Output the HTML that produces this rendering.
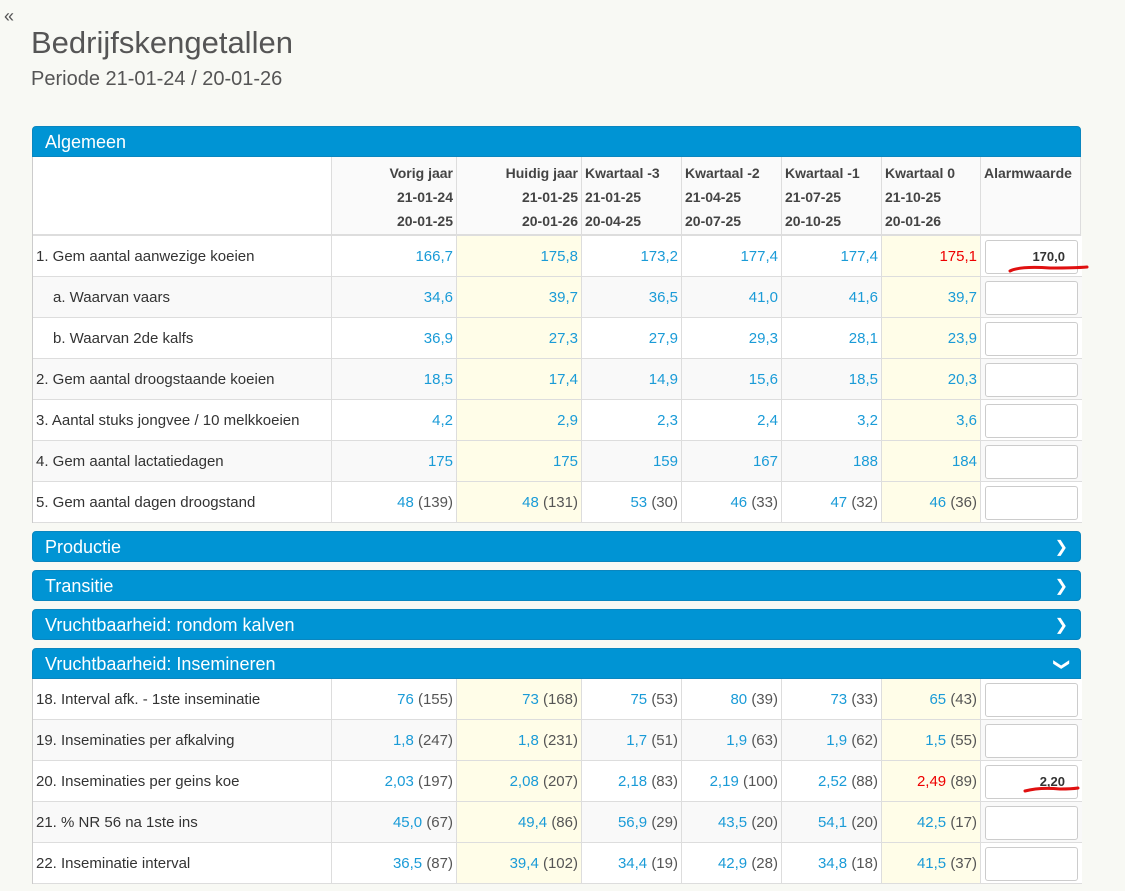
<!DOCTYPE html>
<html><head><meta charset="utf-8">
<style>
*{box-sizing:border-box;margin:0;padding:0}
body{width:1125px;height:891px;background:#f8f9f4;font-family:"Liberation Sans",sans-serif;position:relative;overflow:hidden;color:#333}
.abs{position:absolute}
.bar{position:absolute;left:32px;width:1049px;height:31px;background:#0094d4;border-radius:4px 4px 0 0;color:#fff;font-size:18px;line-height:31px;padding-left:12px;border:1px solid #0a86bf}
.bar.closed{border-radius:4px}
.chev{position:absolute;right:12px;top:0;font-size:16px}
.panel{position:absolute;left:32px;width:1049px;background:#fff;border:1px solid #ccc;border-top:none}
.cell{position:absolute;font-size:15px;height:41px;line-height:41px;border-right:1px solid #ddd;border-bottom:1px solid #ddd;padding:0 3px;white-space:nowrap}
.v{color:#1a9bd7}.r{color:#e00}.p{color:#555}
.hd{font-weight:bold;font-size:14px;line-height:24px;color:#444;padding-top:4px}
.inp{position:absolute;left:4px;top:4px;width:93px;height:34px;border:1px solid #ccc;border-radius:3px;background:#fff;text-align:right;padding-right:12px;font-size:13px;font-weight:bold;line-height:32px;color:#333}
</style></head><body>
<div class="abs" style="left:4px;top:6px;font-size:18px;color:#555">«</div>
<div class="abs" style="left:31px;top:25px;font-size:31px;color:#555">Bedrijfskengetallen</div>
<div class="abs" style="left:31px;top:68px;font-size:20px;color:#555">Periode 21-01-24 / 20-01-26</div>

<div class="bar" style="top:126px">Algemeen</div>
<div class="panel" id="p1" style="top:157px;height:366px"></div>
<div class="bar closed" style="top:531px">Productie<span class="chev">&#x276F;</span></div>
<div class="bar closed" style="top:570px">Transitie<span class="chev">&#x276F;</span></div>
<div class="bar closed" style="top:609px">Vruchtbaarheid: rondom kalven<span class="chev">&#x276F;</span></div>
<div class="bar" style="top:648px">Vruchtbaarheid: Insemineren<span class="chev" style="transform:rotate(90deg)">&#x276F;</span></div>
<div class="panel" id="p2" style="top:679px;height:205px"></div>

<svg class="abs" style="left:0;top:0" width="1125" height="891">
<path d="M1010 271 Q1020 266 1050 268 Q1075 268 1087 267" stroke="#e01010" stroke-width="3" fill="none" stroke-linecap="round"/>
<path d="M1025 791 Q1040 787 1060 789 Q1072 789 1078 788" stroke="#e01010" stroke-width="3" fill="none" stroke-linecap="round"/>
</svg>
<script>
const colX=[0,299,424,549,649,749,849,948,1048];
const yelCols=[2,6];
const heads=[["Vorig jaar","21-01-24","20-01-25"],["Huidig jaar","21-01-25","20-01-26"],["Kwartaal -3","21-01-25","20-04-25"],["Kwartaal -2","21-04-25","20-07-25"],["Kwartaal -1","21-07-25","20-10-25"],["Kwartaal 0","21-10-25","20-01-26"],["Alarmwaarde","",""]];
const labels1=["1. Gem aantal aanwezige koeien","a. Waarvan vaars","b. Waarvan 2de kalfs","2. Gem aantal droogstaande koeien","3. Aantal stuks jongvee / 10 melkkoeien","4. Gem aantal lactatiedagen","5. Gem aantal dagen droogstand"];
const values1=[["166,7","175,8","173,2","177,4","177,4","175,1"],["34,6","39,7","36,5","41,0","41,6","39,7"],["36,9","27,3","27,9","29,3","28,1","23,9"],["18,5","17,4","14,9","15,6","18,5","20,3"],["4,2","2,9","2,3","2,4","3,2","3,6"],["175","175","159","167","188","184"],["48","48","53","46","47","46"]];
const counts1=[null,null,null,null,null,null,["139","131","30","33","32","36"]];
const alarm1=["170,0","","","","","",""];
const red1=[[0,5]];
const labels2=["18. Interval afk. - 1ste inseminatie","19. Inseminaties per afkalving","20. Inseminaties per geins koe","21. % NR 56 na 1ste ins","22. Inseminatie interval"];
const values2=[["76","73","75","80","73","65"],["1,8","1,8","1,7","1,9","1,9","1,5"],["2,03","2,08","2,18","2,19","2,52","2,49"],["45,0","49,4","56,9","43,5","54,1","42,5"],["36,5","39,4","34,4","42,9","34,8","41,5"]];
const counts2=[["155","168","53","39","33","43"],["247","231","51","63","62","55"],["197","207","83","100","88","89"],["67","86","29","20","20","17"],["87","102","19","28","18","37"]];
const alarm2=["","","2,20","",""];
const red2=[[2,5]];

function mk(parent,x,y,w,h,cls){const d=document.createElement('div');d.className='cell '+cls;d.style.left=x+'px';d.style.top=y+'px';d.style.width=w+'px';d.style.height=h+'px';parent.appendChild(d);return d;}
function build(pid,hasHead,labels,values,counts,alarm,reds){
  const p=document.getElementById(pid);
  let y=0;
  if(hasHead){
    const c0=mk(p,0,0,colX[1],79,'');c0.style.borderBottom='2px solid #ddd';
    
    
    heads.forEach((h,i)=>{const c=mk(p,colX[i+1],0,colX[i+2]-colX[i+1],79,'hd');
      c.style.textAlign=(i<2)?'right':'left';c.style.borderBottom='2px solid #ddd';c.style.background='#fafafa';
      c.innerHTML=h.join('<br>');
      
      });
    y=79;
  }
  labels.forEach((lab,r)=>{
    const bg=(r%2==1)?'#f9f9f9':'#fff';
    const lc=mk(p,0,y,colX[1],41,'');lc.style.background=bg;lc.textContent=lab;
    if(/^[ab]\./.test(lab))lc.style.paddingLeft='20px';
    
    
    values[r].forEach((v,i)=>{
      const c=mk(p,colX[i+1],y,colX[i+2]-colX[i+1],41,'');
      c.style.textAlign='right';
      c.style.background=yelCols.includes(i+1)?'#fffde8':bg;
      const isRed=reds.some(a=>a[0]==r&&a[1]==i);
      c.innerHTML='<span class="'+(isRed?'r':'v')+'">'+v+'</span>'+(counts[r]?' <span class="p">('+counts[r][i]+')</span>':'');
      
      
    });
    const ac=mk(p,colX[7],y,colX[8]-colX[7]+1,41,'');ac.style.background=bg;ac.style.borderRight='none';
    const inp=document.createElement('div');inp.className='inp';inp.textContent=alarm[r];ac.appendChild(inp);
    
    
    y+=41;
  });
}
build('p1',true,labels1,values1,counts1,alarm1,red1);
build('p2',false,labels2,values2,counts2,alarm2,red2);
</script>
</body></html>
